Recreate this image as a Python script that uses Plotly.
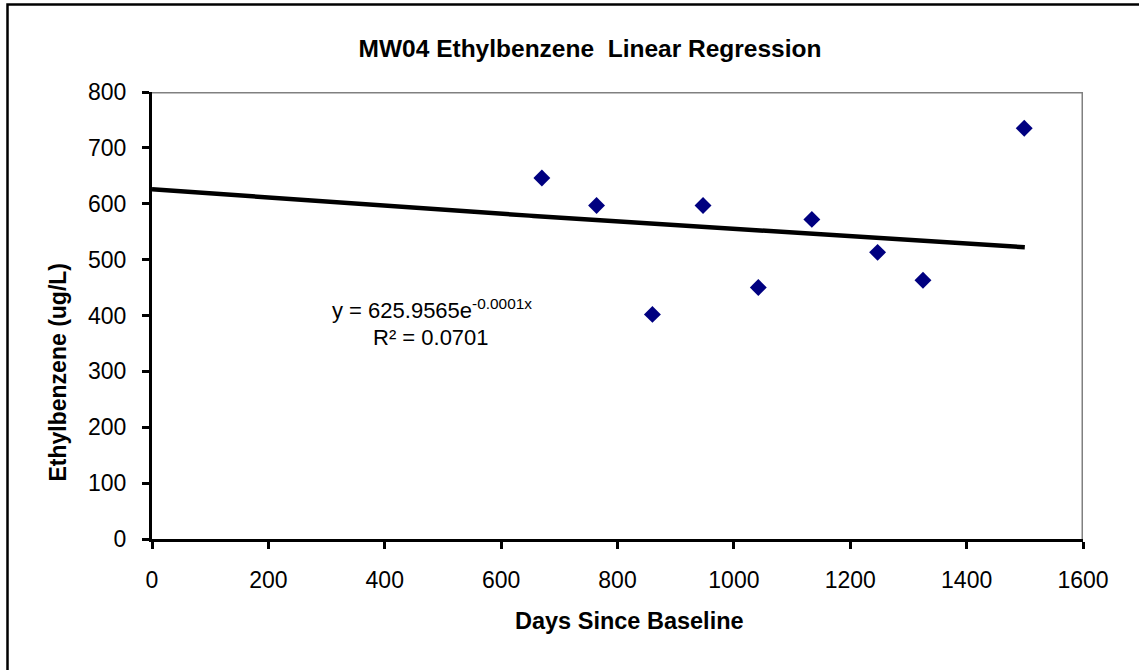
import numpy as np
import plotly.graph_objects as go

# Sampling days and measured concentrations at MW04
days = [670, 764, 860, 947, 1042, 1134, 1247, 1325, 1499]
ethylbenzene = [646, 597, 402, 597, 450, 572, 513, 463, 735]

# Exponential trend: y = a * exp(b * x)
trend_a = 625.9565
trend_b = -0.000121
trend_r2 = 0.0701
trend_days = [0, 1500]

x_ticks = [0, 200, 400, 600, 800, 1000, 1200, 1400, 1600]
y_ticks = [0, 100, 200, 300, 400, 500, 600, 700, 800]

FONT = "Arial, Liberation Sans, sans-serif"

# plot-area placement in pixels
W, H = 1139, 670
L, R, T, B = 152, 56, 92, 131
pw, ph = W - L - R, H - T - B


def px_x(p):
    return (p - L) / pw


def px_y(p):
    return (H - B - p) / ph


tx = np.linspace(trend_days[0], trend_days[1], 200)
ty = trend_a * np.exp(trend_b * tx)

fig = go.Figure()
fig.add_trace(go.Scatter(
    x=tx, y=ty, mode="lines",
    line=dict(color="black", width=4.5),
    hoverinfo="skip", showlegend=False,
))
fig.add_trace(go.Scatter(
    x=days, y=ethylbenzene, mode="markers",
    marker=dict(symbol="diamond", size=13, color="#000080",
                line=dict(width=0)),
    showlegend=False,
))

axis_common = dict(
    showgrid=False, zeroline=False,
    showline=True, linecolor="black", linewidth=3,
    ticks="outside", ticklen=7, tickwidth=3, tickcolor="black",
    tickfont=dict(family=FONT, size=23, color="black"),
    ticklabelstandoff=11,
)

fig.update_xaxes(range=[0, 1600], tickvals=x_ticks,
                 ticktext=[str(v) for v in x_ticks], **axis_common)
fig.update_yaxes(range=[0, 800], tickvals=y_ticks,
                 ticktext=[str(v) for v in y_ticks], **axis_common)

shapes = [
    # gray frame on top and right of the plot area
    dict(type="line", xref="x", yref="y", x0=0, x1=1600, y0=800, y1=800,
         line=dict(color="#808080", width=3), layer="below"),
    dict(type="line", xref="x", yref="y", x0=1600, x1=1600, y0=0, y1=800,
         line=dict(color="#808080", width=3), layer="below"),
    # outer chart border
    dict(type="rect", xref="paper", yref="paper",
         x0=px_x(7.5), x1=px_x(1150), y0=px_y(690), y1=px_y(4.5),
         line=dict(color="black", width=2.5), fillcolor="rgba(0,0,0,0)"),
]

eq_text = f"y = {trend_a:.4f}e<sup>{trend_b:.4f}x</sup>"
r2_text = f"R² = {trend_r2:.4f}"

annotations = [
    dict(text=eq_text, xref="paper", yref="paper",
         x=px_x(432), y=px_y(309), xanchor="center", yanchor="middle",
         showarrow=False, font=dict(family=FONT, size=22, color="black")),
    dict(text=r2_text, xref="paper", yref="paper",
         x=px_x(431), y=px_y(337), xanchor="center", yanchor="middle",
         showarrow=False, font=dict(family=FONT, size=22, color="black")),
    dict(text="<b>Ethylbenzene (ug/L)</b>", xref="paper", yref="paper",
         x=px_x(57.5), y=px_y(372), xanchor="center", yanchor="middle",
         textangle=-90, showarrow=False,
         font=dict(family=FONT, size=23, color="black")),
    dict(text="<b>Days Since Baseline</b>", xref="paper", yref="paper",
         x=px_x(629), y=px_y(621), xanchor="center", yanchor="middle",
         showarrow=False, font=dict(family=FONT, size=23.5, color="black")),
]

fig.update_layout(
    width=W, height=H,
    margin=dict(l=L, r=R, t=T, b=B),
    paper_bgcolor="white", plot_bgcolor="white",
    title=dict(text="<b>MW04 Ethylbenzene  Linear Regression</b>",
               xref="container", yref="container",
               x=590 / W, y=1 - 48 / H, xanchor="center", yanchor="middle",
               font=dict(family=FONT, size=24.5, color="black")),
    shapes=shapes,
    annotations=annotations,
)

fig.write_html("out.html")
